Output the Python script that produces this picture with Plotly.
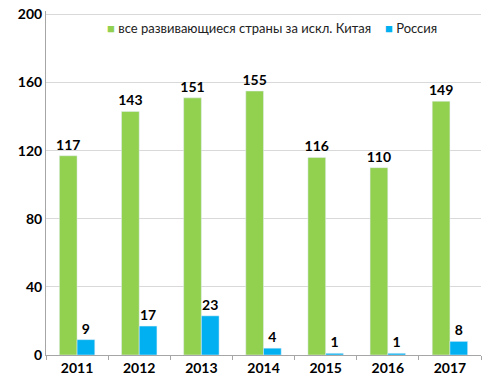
import plotly.graph_objects as go

years = ["2011", "2012", "2013", "2014", "2015", "2016", "2017"]
developing = [117, 143, 151, 155, 116, 110, 149]
russia = [9, 17, 23, 4, 1, 1, 8]
name_dev = "все развивающиеся страны за искл. Китая"
name_ru = "Россия"
yticks = [0, 40, 80, 120, 160, 200]
GREEN = "#92D050"
BLUE = "#00B0F0"

FONT = "Lato"
LBL = dict(family=FONT, size=14, color="#000000", weight="bold")
fig = go.Figure()
fig.add_trace(go.Bar(x=years, y=developing, name=name_dev, marker_color=GREEN,
                     text=[str(v) for v in developing], textposition="outside",
                     textfont=LBL, constraintext="none", cliponaxis=False,
                     showlegend=False))
fig.add_trace(go.Bar(x=years, y=russia, name=name_ru, marker_color=BLUE,
                     text=[str(v) for v in russia], textposition="outside",
                     textfont=LBL, constraintext="none", cliponaxis=False,
                     showlegend=False))
fig.add_annotation(xref="paper", yref="paper", x=0.135, y=0.95, xanchor="left",
                   yanchor="middle", showarrow=False,
                   text=f"<span style='color:{GREEN}'>■</span> {name_dev}",
                   font=dict(family=FONT, size=13, color="#222222"))
fig.add_annotation(xref="paper", yref="paper", x=0.775, y=0.95, xanchor="left",
                   yanchor="middle", showarrow=False,
                   text=f"<span style='color:{BLUE}'>■</span> {name_ru}",
                   font=dict(family=FONT, size=13, color="#222222"))
fig.update_layout(
    width=495, height=390,
    margin=dict(l=46, r=14, t=5, b=35),
    paper_bgcolor="white", plot_bgcolor="white",
    barmode="group", bargap=0.43, bargroupgap=0,
    font=dict(family=FONT, color="#000000"),
    showlegend=False,
    xaxis=dict(type="category", showline=True, linecolor="#A6A6A6", linewidth=1,
               ticks="outside", tickson="boundaries", ticklen=4, tickcolor="#A6A6A6",
               tickfont=dict(family=FONT, size=14, color="#000000", weight="bold"),
               showgrid=False),
    yaxis=dict(range=[0, 202], tickvals=yticks, ticktext=[str(t) for t in yticks],
               ticklabeloverflow="allow",
               showline=True, linecolor="#A6A6A6",
               linewidth=1, ticks="", showgrid=True, gridcolor="#D9D9D9", zeroline=False,
               tickfont=dict(family=FONT, size=14, color="#000000", weight="bold")),
)
fig.write_html("out.html", config={"displayModeBar": False},
               post_script="document.body.style.margin='0';document.body.style.padding='0';")
